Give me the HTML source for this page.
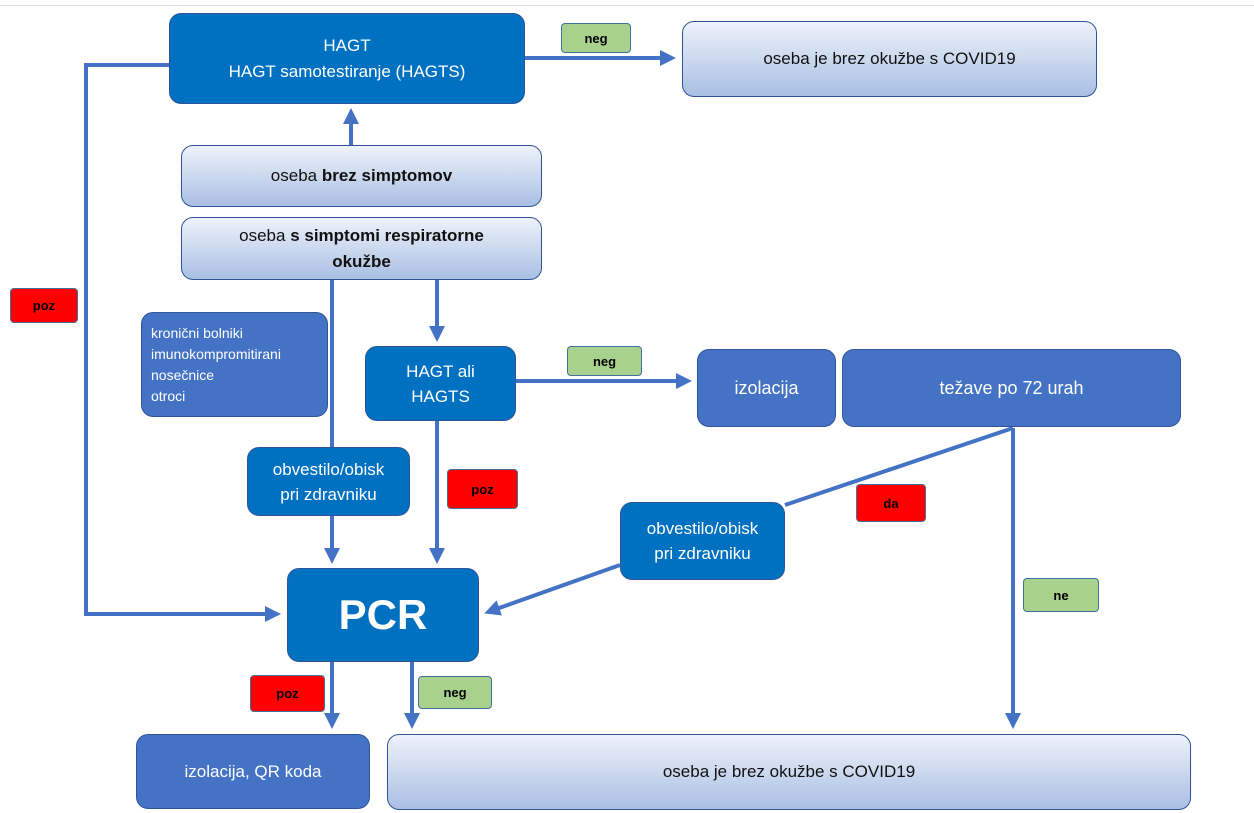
<!DOCTYPE html>
<html><head><meta charset="utf-8"><style>
body{margin:0;width:1254px;height:813px;background:#fff;position:relative;overflow:hidden;font-family:"Liberation Sans","DejaVu Sans",sans-serif;}
.b{position:absolute;box-sizing:border-box;display:flex;align-items:center;justify-content:center;text-align:center;border-radius:12px;}
.d{background:#0070C0;color:#fff;border:1.5px solid #2f5597;}
.m{background:#4472C4;color:#fff;border:1.5px solid #2f5597;}
.g{background:linear-gradient(#eef2fa,#a9bfe3);color:#111;border:1.5px solid #2f5597;}
.gr{background:#A9D18E;border:1.5px solid #41719c;border-radius:4px;font-weight:bold;font-size:13px;color:#000;}
.r{background:#FF0000;border:1.5px solid #41719c;border-radius:4px;font-weight:bold;font-size:13px;color:#000;}
svg{position:absolute;left:0;top:0;}
</style></head><body>
<div style="position:absolute;left:0;top:5px;width:1254px;height:1px;background:#ddd"></div>
<svg width="1254" height="813">
<defs><marker id="a" markerWidth="4" markerHeight="4" refX="3" refY="2" orient="auto"><path d="M0,0 L4,2 L0,4z" fill="#4472C4"/></marker></defs>
<g stroke="#4472C4" stroke-width="4" fill="none">
<path d="M525 58 H672" marker-end="url(#a)"/>
<path d="M351 145 V112" marker-end="url(#a)"/>
<path d="M169 65 H86 V614 H277" marker-end="url(#a)"/>
<path d="M332 280 V560" marker-end="url(#a)"/>
<path d="M437 280 V338" marker-end="url(#a)"/>
<path d="M437 421 V560" marker-end="url(#a)"/>
<path d="M516 381 H688" marker-end="url(#a)"/>
<path d="M1013 428 L785 505"/>
<path d="M620 565 L488 612" marker-end="url(#a)"/>
<path d="M1013 428 V725" marker-end="url(#a)"/>
<path d="M332 662 V725" marker-end="url(#a)"/>
<path d="M412 662 V725" marker-end="url(#a)"/>
</g></svg>
<div class="b d" style="left:169px;top:13px;width:356px;height:91px;font-size:17px;line-height:26px">HAGT<br>HAGT samotestiranje (HAGTS)</div>
<div class="b gr" style="left:561px;top:23px;width:70px;height:30px">neg</div>
<div class="b g" style="left:682px;top:21px;width:415px;height:76px;font-size:17px">oseba je brez okužbe s COVID19</div>
<div class="b g" style="left:181px;top:145px;width:361px;height:62px;font-size:17px">oseba&nbsp;<b>brez simptomov</b></div>
<div class="b g" style="left:181px;top:217px;width:361px;height:63px;font-size:17px;line-height:26px"><span>oseba <b>s simptomi respiratorne<br>okužbe</b></span></div>
<div class="b r" style="left:10px;top:288px;width:68px;height:35px">poz</div>
<div class="b m" style="left:141px;top:312px;width:187px;height:105px;font-size:14px;line-height:21px;justify-content:flex-start;text-align:left;padding-left:9px">kronični bolniki<br>imunokompromitirani<br>nosečnice<br>otroci</div>
<div class="b d" style="left:365px;top:346px;width:151px;height:75px;font-size:17px;line-height:25px">HAGT ali<br>HAGTS</div>
<div class="b gr" style="left:567px;top:346px;width:75px;height:30px">neg</div>
<div class="b m" style="left:697px;top:349px;width:139px;height:78px;font-size:18px">izolacija</div>
<div class="b m" style="left:842px;top:349px;width:339px;height:78px;font-size:18px">težave po 72 urah</div>
<div class="b d" style="left:247px;top:447px;width:163px;height:69px;font-size:17px;line-height:25px">obvestilo/obisk<br>pri zdravniku</div>
<div class="b r" style="left:447px;top:469px;width:71px;height:40px">poz</div>
<div class="b r" style="left:856px;top:484px;width:70px;height:38px">da</div>
<div class="b d" style="left:620px;top:502px;width:165px;height:78px;font-size:17px;line-height:25px">obvestilo/obisk<br>pri zdravniku</div>
<div class="b gr" style="left:1023px;top:578px;width:76px;height:34px">ne</div>
<div class="b d" style="left:287px;top:568px;width:192px;height:94px;font-size:42px;font-weight:bold">PCR</div>
<div class="b r" style="left:250px;top:675px;width:75px;height:37px">poz</div>
<div class="b gr" style="left:418px;top:676px;width:74px;height:33px">neg</div>
<div class="b m" style="left:136px;top:734px;width:234px;height:75px;font-size:17px">izolacija, QR koda</div>
<div class="b g" style="left:387px;top:734px;width:804px;height:76px;font-size:17px">oseba je brez okužbe s COVID19</div>
</body></html>
